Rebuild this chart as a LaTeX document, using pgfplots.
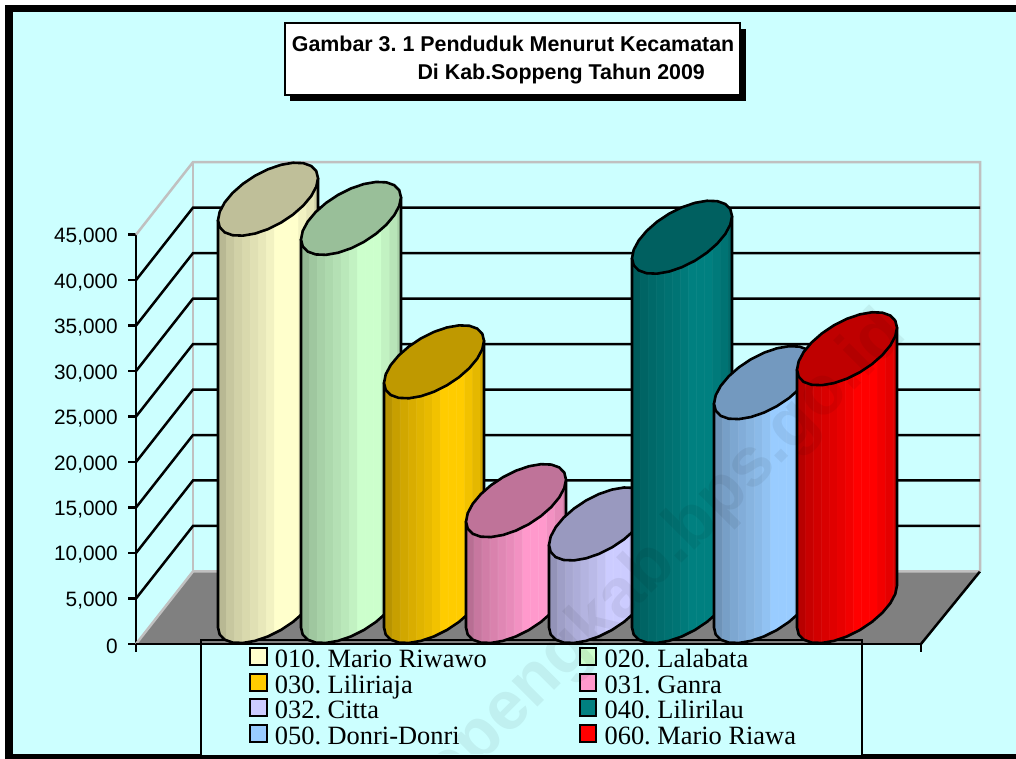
\documentclass[border=0pt]{standalone}
\usepackage{fontspec}
\setmainfont{Liberation Sans}
\newfontfamily\lserif{Liberation Serif}
\usepackage{pgfplots}
\usepackage{pgfplotstable}
\pgfplotsset{compat=1.18}
\definecolor{bgc}{HTML}{CCFFFF}
\definecolor{wallc}{HTML}{C0C0C0}
\definecolor{floorc}{HTML}{808080}
\definecolor{cA}{HTML}{FFFFCC}
\definecolor{cB}{HTML}{CCFFCC}
\definecolor{cC}{HTML}{FFCC00}
\definecolor{cD}{HTML}{FF99CC}
\definecolor{cE}{HTML}{CCCCFF}
\definecolor{cF}{HTML}{008080}
\definecolor{cG}{HTML}{99CCFF}
\definecolor{cH}{HTML}{FF0000}
% stepped bands with thin light stripes; 25bp..75bp span the width of the cylinder
\newcommand\defcyl[2]{\pgfdeclarehorizontalshading{#1}{100bp}{%
color(0bp)=(#2!72!black);color(25bp)=(#2!72!black);color(28.6bp)=(#2!72!black);color(28.7bp)=(#2!72!black!88!white);color(28.9bp)=(#2!72!black!88!white);%
color(29bp)=(#2!78!black);color(32.6bp)=(#2!78!black);color(32.7bp)=(#2!78!black!88!white);color(32.9bp)=(#2!78!black!88!white);%
color(33bp)=(#2!82!black);color(36.6bp)=(#2!82!black);color(36.7bp)=(#2!82!black!88!white);color(36.9bp)=(#2!82!black!88!white);%
color(37bp)=(#2!85!black);color(40.6bp)=(#2!85!black);color(40.7bp)=(#2!85!black!88!white);color(40.9bp)=(#2!85!black!88!white);%
color(41bp)=(#2!88!black);color(44.6bp)=(#2!88!black);color(44.7bp)=(#2!88!black!88!white);color(44.9bp)=(#2!88!black!88!white);%
color(45bp)=(#2!91!black);color(48.6bp)=(#2!91!black);color(48.7bp)=(#2!91!black!88!white);color(48.9bp)=(#2!91!black!88!white);%
color(49bp)=(#2!95!black);color(52.6bp)=(#2!95!black);color(52.7bp)=(#2!95!black!88!white);color(52.9bp)=(#2!95!black!88!white);%
color(53bp)=(#2);color(56.6bp)=(#2);color(56.7bp)=(#2!88!white);color(56.9bp)=(#2!88!white);%
color(57bp)=(#2);color(60.6bp)=(#2);color(60.7bp)=(#2!88!white);color(60.9bp)=(#2!88!white);%
color(61bp)=(#2);color(64.6bp)=(#2);color(64.7bp)=(#2!88!white);color(64.9bp)=(#2!88!white);%
color(65bp)=(#2!95!black);color(68.6bp)=(#2!95!black);color(68.7bp)=(#2!95!black!88!white);color(68.9bp)=(#2!95!black!88!white);%
color(69bp)=(#2!90!black);color(72.6bp)=(#2!90!black);color(72.7bp)=(#2!90!black!88!white);color(72.9bp)=(#2!90!black!88!white);%
color(73bp)=(#2!82!black);color(100bp)=(#2!82!black)}}
\defcyl{cylA}{cA}\defcyl{cylB}{cB}\defcyl{cylC}{cC}\defcyl{cylD}{cD}
\defcyl{cylE}{cE}\defcyl{cylF}{cF}\defcyl{cylG}{cG}\defcyl{cylH}{cH}
% tilted ellipse outline, in x units and value units
\pgfplotstableread{
x y
50 2312
48.3 3085
43.3 3648
35.36 3963
25 4007
12.94 3778
0 3292
-12.94 2582
-25 1695
-35.36 693
-43.3 -356
-48.3 -1381
-50 -2312
-48.3 -3085
-43.3 -3648
-35.36 -3963
-25 -4007
-12.94 -3778
0 -3292
12.94 -2582
25 -1695
35.36 -693
43.3 356
48.3 1381
50 2312
}\ellipsetab
% side of a cylinder: h=1 at the top, h=0 at the base
\pgfplotstableread{
x y h
-50 -2312 1
-50 -2312 0
-48.3 -3085 0
-43.3 -3648 0
-35.36 -3963 0
-25 -4007 0
-12.94 -3778 0
0 -3292 0
12.94 -2582 0
25 -1695 0
35.36 -693 0
43.3 356 0
48.3 1381 0
50 2312 0
50 2312 1
}\bodytab
% \cyl{centre x}{value}{shading}{top colour}
\newcommand\cyl[4]{%
\addplot[shading=#3,draw=black,line width=2.6pt,line join=round,forget plot] table[x expr=\thisrow{x}+#1,y expr=\thisrow{y}+4123+\thisrow{h}*#2] {\bodytab} -- cycle;
\addplot[fill=#4,draw=black,line width=2.6pt,line join=round,forget plot] table[x expr=\thisrow{x}+#1,y expr=\thisrow{y}+4123+#2] {\ellipsetab} -- cycle;
}
\newcommand\swatch[1]{\addlegendimage{legend image code/.code={\draw[black,line width=2pt,fill=#1] (0.5pt,-3.5pt) rectangle (17pt,13.5pt);\path (25pt,0pt);}}}
\begin{document}
\frenchspacing
\begin{tikzpicture}[x=1pt,y=1pt]
\useasboundingbox (0,0) rectangle (1016,759);
\fill[black] (5,0) rectangle (1016,754);
\fill[bgc] (13,5) rectangle (1016,747);
\begin{axis}[
  at={(136pt,115pt)},anchor=south west,
  scale only axis,width=785pt,height=409.3pt,
  xmin=136,xmax=921,ymin=0,ymax=45000,
  clip=false,
  axis y line=left,axis x line=bottom,
  axis line style={-,black,line width=2.5pt},
  xtick={136,921},xticklabels={},
  ytick={0,5000,10000,15000,20000,25000,30000,35000,40000,45000},
  tick align=outside,major tick length=8pt,
  tick style={black,line width=2.5pt},
  scaled y ticks=false,
  tick label style={font=\fontsize{20.8}{21}\selectfont},
  yticklabel style={inner sep=0pt,xshift=-10pt,yshift=-2pt,/pgf/number format/fixed,/pgf/number format/1000 sep={,},/pgf/number format/assume math mode=true},
  legend columns=2,
  legend cell align=left,
  legend style={at={(axis cs:249,-310)},anchor=north west,draw=none,fill=none,inner sep=0pt,
    font=\lserif\fontsize{26.4}{26.4}\selectfont,
    /tikz/row sep=0.2pt,/tikz/column sep=0pt,
    nodes={inner sep=0pt,text height=17pt,text depth=5pt}},
]
% floor
\addplot[fill=floorc,draw=none,forget plot] coordinates {(136,0)(193,7977)(980,7977)(921,0)} -- cycle;
\addplot[wallc,line width=2.5pt,forget plot] coordinates {(136,0)(193,7977)(980,7977)};
\addplot[black,line width=2.5pt,forget plot] coordinates {(921,0)(980,7977)};
% walls
\addplot[wallc,line width=2.5pt,forget plot] coordinates {(136,45000)(193,52977)(980,52977)(980,7977)};
\addplot[wallc,line width=2.5pt,forget plot] coordinates {(193,7977)(193,52977)};
% grid
\addplot[black,line width=2.5pt,forget plot] coordinates {(136,5000)(193,12977)(980,12977)};
\addplot[black,line width=2.5pt,forget plot] coordinates {(136,10000)(193,17977)(980,17977)};
\addplot[black,line width=2.5pt,forget plot] coordinates {(136,15000)(193,22977)(980,22977)};
\addplot[black,line width=2.5pt,forget plot] coordinates {(136,20000)(193,27977)(980,27977)};
\addplot[black,line width=2.5pt,forget plot] coordinates {(136,25000)(193,32977)(980,32977)};
\addplot[black,line width=2.5pt,forget plot] coordinates {(136,30000)(193,37977)(980,37977)};
\addplot[black,line width=2.5pt,forget plot] coordinates {(136,35000)(193,42977)(980,42977)};
\addplot[black,line width=2.5pt,forget plot] coordinates {(136,40000)(193,47977)(980,47977)};
% legend box
\addplot[fill=bgc,draw=none,forget plot] coordinates {(201,0)(862,0)(862,-12203)(201,-12203)} -- cycle;
\addplot[black,line width=2pt,forget plot] coordinates {(201,-12203)(201,440)(862,440)(862,-12203)};
\addplot[black,line width=2.5pt,forget plot] coordinates {(136,0)(921,0)};
% cylinders
\cyl{268}{44780}{cylA}{cA!75!black}
\cyl{351}{42670}{cylB}{cB!75!black}
\cyl{434}{26900}{cylC}{cC!75!black}
\cyl{516}{11640}{cylD}{cD!75!black}
\cyl{599}{9075}{cylE}{cE!75!black}
\cyl{682}{40600}{cylF}{cF!75!black}
\cyl{764}{24610}{cylG}{cG!75!black}
\cyl{847}{28340}{cylH}{cH!75!black}
\swatch{cA}\addlegendentry{\makebox[304pt][l]{010. Mario Riwawo}}
\swatch{cB}\addlegendentry{020. Lalabata}
\swatch{cC}\addlegendentry{\makebox[304pt][l]{030. Liliriaja}}
\swatch{cD}\addlegendentry{031. Ganra}
\swatch{cE}\addlegendentry{\makebox[304pt][l]{032. Citta}}
\swatch{cF}\addlegendentry{040. Lilirilau}
\swatch{cG}\addlegendentry{\makebox[304pt][l]{050. Donri-Donri}}
\swatch{cH}\addlegendentry{060. Mario Riawa}
\end{axis}
% title box
\fill[black] (290,658.3) rectangle (746,730);
\filldraw[fill=white,draw=black,line width=2pt] (285,664) rectangle (740,735.7);
\node[anchor=base west,inner sep=0pt,font=\bfseries\fontsize{21.4}{21.4}\selectfont] at (291.7,707.3) {Gambar 3. 1 Penduduk Menurut Kecamatan};
\node[anchor=base west,inner sep=0pt,font=\bfseries\fontsize{21.4}{21.4}\selectfont] at (417.3,679) {Di Kab.Soppeng Tahun 2009};
% watermark
\begin{scope}
\clip (13,5) rectangle (1016,747);
\node[rotate=45,text=black,text opacity=0.06,font=\bfseries\fontsize{69}{69}\selectfont] at (652,191) {sopengkab.bps.go.id};
\end{scope}
\end{tikzpicture}
\end{document}
